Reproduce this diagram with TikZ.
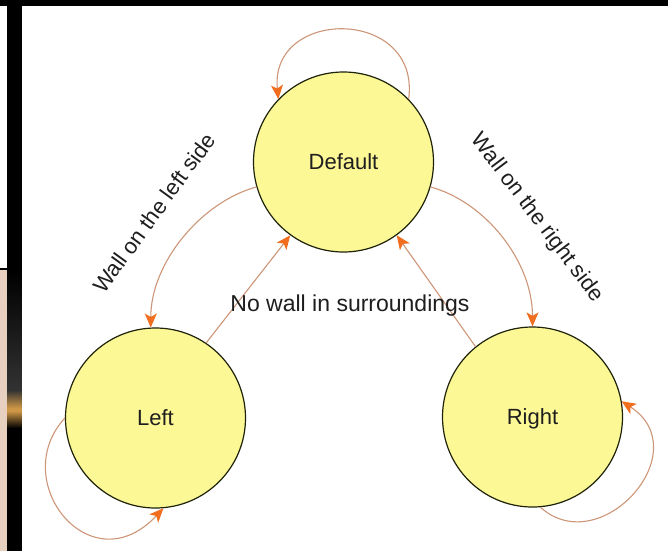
\documentclass[tikz,border=0pt]{standalone}
\usepackage{fontspec}
\setmainfont{Liberation Sans}
\usetikzlibrary{arrows.meta}
\definecolor{circfill}{RGB}{253,248,150}
\definecolor{circline}{RGB}{30,35,10}
\definecolor{edgec}{RGB}{205,150,120}
\definecolor{tipc}{RGB}{240,110,30}
\definecolor{txt}{RGB}{30,30,30}
\definecolor{pinkstrip}{RGB}{232,208,192}
\definecolor{goldband}{RGB}{205,150,70}
\definecolor{darkgray}{RGB}{50,50,50}
\begin{document}
\begin{tikzpicture}[x=1pt,y=-1pt,
  state/.style={circle, draw=circline, line width=1.2pt, fill=circfill,
    minimum size=180pt, inner sep=0pt, text depth=0pt,
    font=\fontsize{22}{26}\selectfont, text=txt},
  edge/.style={draw=edgec, line width=1.1pt,
    -{Stealth[length=14pt,width=12pt,inset=3.5pt,color=tipc]}},
  lbl/.style={font=\fontsize{22}{26}\selectfont, text=txt, inner sep=1pt}]
\useasboundingbox (0,0) rectangle (668,551);
% background
\fill[black] (0,0) rectangle (668,551);
\fill[white] (0,6) rectangle (7,268);
\fill[pinkstrip] (0,270) rectangle (7,551);
\shade[top color=black, bottom color=darkgray] (7,270) rectangle (22,390);
\shade[top color=darkgray, bottom color=goldband] (7,390) rectangle (22,408);
\fill[goldband] (7,408) rectangle (22,411);
\shade[top color=goldband, bottom color=black] (7,411) rectangle (22,428);
\fill[white] (22,6) rectangle (668,551);
% states
\node[state] (D) at (343.5,162) {Default};
\node[state] (L) at (155.5,418) {Left};
\node[state] (R) at (532.5,417) {Right};
% transitions
\draw[edge] (D.44) .. controls +(12,-92) and +(-9,-92) .. (D.136);
\draw[edge] (D.196) .. controls +(-55,15) and +(0,-65) .. (L.93);
\draw[edge] (D.344) .. controls +(55,15) and +(0,-65) .. (R.90);
\draw[edge] (L.56) -- (D.234);
\draw[edge] (R.129) -- (D.306);
\draw[edge] (L.180) .. controls +(-58,63) and +(-73,78) .. (L.275);
\draw[edge] (R.275) .. controls +(60,54) and +(77,50) .. (R.10);
% labels
\node[lbl, rotate=54] (wl) at (154,213) {Wall on the left side};
\node[lbl, rotate=-53] (wr) at (537,218) {Wall on the right side};
\node[lbl, font=\fontsize{23}{27}\selectfont] (nw) at (350,306) {No wall in surroundings};
\end{tikzpicture}
\end{document}
